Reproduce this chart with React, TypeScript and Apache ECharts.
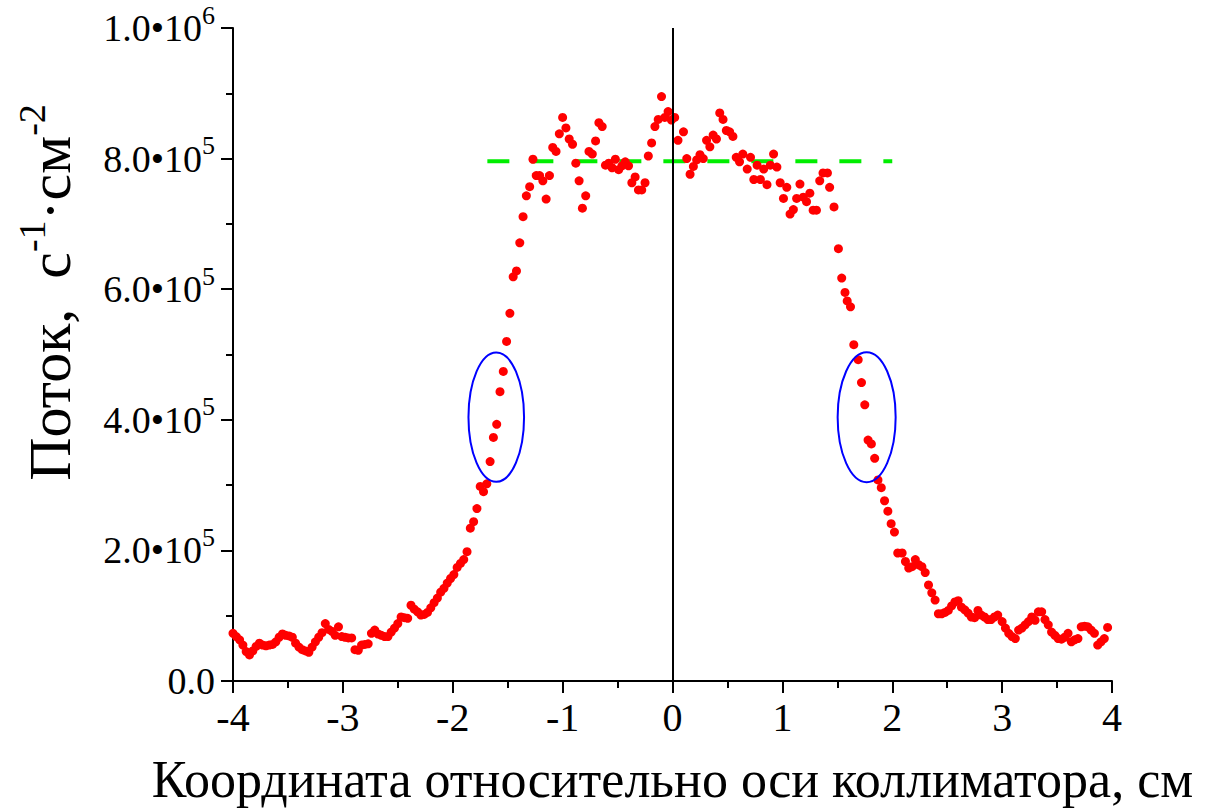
import React, { useEffect, useRef } from "react";
import * as echarts from "echarts";

// Flux profile across the collimator axis: position (cm) and flux in units of 1e5 s^-1·cm^-2
const leftPositions = [
  -4.0, -3.97, -3.94, -3.91, -3.88, -3.85, -3.82, -3.79, -3.76, -3.73,
  -3.7, -3.67, -3.64, -3.61, -3.58, -3.55, -3.52, -3.49, -3.46, -3.43,
  -3.4, -3.37, -3.34, -3.31, -3.28, -3.25, -3.22, -3.19, -3.16, -3.13,
  -3.1, -3.07, -3.04, -3.01, -2.98, -2.95, -2.92, -2.89, -2.86, -2.83,
  -2.8, -2.77, -2.74, -2.71, -2.68, -2.65, -2.62, -2.59, -2.56, -2.53,
  -2.5, -2.47, -2.44, -2.41, -2.38, -2.35, -2.32, -2.29, -2.26, -2.23,
  -2.2, -2.17, -2.14, -2.11, -2.08, -2.05, -2.02, -1.99, -1.96, -1.93,
  -1.9, -1.87, -1.84, -1.81, -1.78, -1.75, -1.72, -1.69, -1.66, -1.63,
  -1.6, -1.57, -1.54, -1.51, -1.48, -1.45, -1.42, -1.39, -1.36, -1.33,
  -1.3, -1.27, -1.24, -1.21, -1.18, -1.15, -1.12, -1.09, -1.06, -1.03,
  -1.0, -0.97, -0.94, -0.91, -0.88, -0.85, -0.82, -0.79, -0.76, -0.73,
  -0.7, -0.67, -0.64, -0.61, -0.58, -0.55, -0.52, -0.49, -0.46, -0.43,
  -0.4, -0.37, -0.34, -0.31, -0.28, -0.25, -0.22, -0.19, -0.16, -0.13,
  -0.1, -0.07, -0.04, -0.01, 0.02, 0.05,
];
const leftFlux = [
  0.73, 0.68, 0.63, 0.55, 0.45, 0.4, 0.46, 0.53, 0.58, 0.55,
  0.54, 0.55, 0.56, 0.6, 0.67, 0.72, 0.7, 0.69, 0.67, 0.58,
  0.52, 0.48, 0.46, 0.44, 0.52, 0.6, 0.67, 0.74, 0.88, 0.79,
  0.76, 0.7, 0.83, 0.68, 0.67, 0.66, 0.66, 0.48, 0.47, 0.55,
  0.56, 0.57, 0.73, 0.78, 0.72, 0.7, 0.68, 0.68, 0.75, 0.81,
  0.88, 0.98, 0.97, 0.96, 1.16, 1.1, 1.06, 1.01, 1.02, 1.05,
  1.12, 1.2, 1.27, 1.36, 1.42, 1.5, 1.57, 1.63, 1.74, 1.8,
  1.86, 1.98, 2.34, 2.44, 2.64, 2.98, 2.9, 3.02, 3.36, 3.73,
  3.93, 4.43, 4.74, 5.2, 5.63, 6.19, 6.28, 6.71, 7.11, 7.43,
  7.57, 7.99, 7.74, 7.74, 7.66, 7.38, 7.74, 8.17, 8.11, 8.38,
  8.63, 8.47, 8.3, 8.22, 7.93, 7.66, 7.24, 7.43, 8.11, 8.07,
  8.27, 8.55, 8.49, 7.9, 7.93, 7.86, 7.99, 7.83, 7.89, 7.95,
  7.89, 7.63, 7.72, 7.52, 7.52, 7.63, 8.04, 8.24, 8.49, 8.6,
  8.95, 8.63, 8.72, 8.59, 8.63, 8.28,
];
const rightPositions = [
  0.1, 0.13, 0.16, 0.19, 0.22, 0.25, 0.28, 0.31, 0.34, 0.37,
  0.4, 0.43, 0.46, 0.49, 0.52, 0.55, 0.58, 0.61, 0.64, 0.68,
  0.71, 0.74, 0.77, 0.8, 0.83, 0.86, 0.89, 0.92, 0.95, 0.98,
  1.01, 1.04, 1.07, 1.1, 1.13, 1.16, 1.19, 1.22, 1.25, 1.28,
  1.31, 1.34, 1.37, 1.41, 1.43, 1.47, 1.51, 1.54, 1.57, 1.59,
  1.62, 1.65, 1.69, 1.72, 1.75, 1.78, 1.81, 1.84, 1.87, 1.9,
  1.93, 1.96, 1.99, 2.02, 2.05, 2.09, 2.12, 2.15, 2.18, 2.21,
  2.24, 2.27, 2.3, 2.33, 2.36, 2.39, 2.42, 2.45, 2.48, 2.51,
  2.54, 2.57, 2.6, 2.63, 2.66, 2.69, 2.72, 2.75, 2.78, 2.81,
  2.84, 2.87, 2.9, 2.93, 2.96, 3.0, 3.03, 3.06, 3.09, 3.12,
  3.15, 3.18, 3.21, 3.24, 3.27, 3.3, 3.33, 3.36, 3.39, 3.42,
  3.45, 3.48, 3.51, 3.54, 3.57, 3.6, 3.63, 3.66, 3.69, 3.72,
  3.75, 3.78, 3.81, 3.84, 3.87, 3.9, 3.93, 3.96,
];
const rightFlux = [
  8.41, 8.0, 7.76, 7.88, 7.98, 8.06, 8.0, 8.28, 8.18, 8.36,
  8.3, 8.7, 8.6, 8.43, 8.41, 8.34, 8.02, 7.95, 8.07, 7.84,
  8.02, 7.68, 7.9, 7.68, 7.84, 7.6, 7.9, 8.07, 7.87, 7.63,
  7.39, 7.56, 7.15, 7.22, 7.39, 7.61, 7.41, 7.34, 7.47, 7.21,
  7.21, 7.66, 7.78, 7.78, 7.56, 7.26, 6.62, 6.17, 5.95, 5.82,
  5.73, 5.15, 4.92, 4.57, 4.23, 3.69, 3.63, 3.41, 3.08, 2.96,
  2.76, 2.6, 2.41, 2.28, 1.96, 1.96, 1.83, 1.73, 1.75, 1.86,
  1.78, 1.75, 1.66, 1.47, 1.35, 1.24, 1.03, 1.03, 1.05, 1.08,
  1.15, 1.21, 1.23, 1.13, 1.09, 1.04, 0.98, 0.97, 1.08, 1.01,
  0.98, 0.94, 0.94, 0.98, 1.01, 0.91, 0.81, 0.73, 0.68, 0.65,
  0.78, 0.81, 0.86, 0.91, 0.98, 0.93, 1.06, 1.06, 0.94, 0.86,
  0.75, 0.7, 0.65, 0.64, 0.67, 0.73, 0.6, 0.63, 0.65, 0.83,
  0.84, 0.83, 0.78, 0.73, 0.55, 0.6, 0.65, 0.82,
];
const FLUX_UNIT = 1e5;

// Plateau level (dashed green line) and its extent in cm
const plateauLevel = 796000;
const plateauRange = [-1.685, 2.0];

// Half-maximum regions: [centre x (cm), centre flux, half-width (cm), half-height (flux)]
const halfMaxRegions = [
  [-1.604, 404000, 0.253, 99000],
  [1.767, 404000, 0.264, 99500],
];

const X_TICKS = { min: -4, max: 4, interval: 1 };
const Y_TICKS = { min: 0, max: 1e6, interval: 2e5 };

const FONT = "Liberation Serif, serif";

function formatFlux(v: number): string {
  if (v === 0) return "{a|0.0}";
  const exp = Math.floor(Math.log10(v) + 1e-9);
  const mant = (v / Math.pow(10, exp)).toFixed(1);
  return `{a|${mant}•10}{s|${exp}}`;
}

export default function App() {
  const ref = useRef<HTMLDivElement>(null);

  useEffect(() => {
    if (!ref.current) return;
    const chart = echarts.init(ref.current, null, { renderer: "svg" });

    const points: number[][] = [];
    leftPositions.forEach((x, i) => points.push([x, leftFlux[i] * FLUX_UNIT]));
    rightPositions.forEach((x, i) => points.push([x, rightFlux[i] * FLUX_UNIT]));

    const axisLineStyle = { color: "#000", width: 2 };

    chart.setOption({
      animation: false,
      backgroundColor: "#fff",
      textStyle: { fontFamily: FONT },
      grid: {
        left: 233,
        right: 99,
        top: 28,
        bottom: 128,
        containLabel: false,
        outerBoundsMode: "none",
      },
      xAxis: {
        type: "value",
        min: X_TICKS.min,
        max: X_TICKS.max,
        interval: X_TICKS.interval,
        axisLine: { onZero: false, lineStyle: axisLineStyle },
        axisTick: { length: 12, lineStyle: axisLineStyle },
        minorTick: { show: true, splitNumber: 2, length: 7, lineStyle: axisLineStyle },
        splitLine: { show: false },
        axisLabel: { margin: 16, fontSize: 40, fontFamily: FONT, color: "#000" },
        name: "Координата относительно оси коллиматора, см",
        nameLocation: "middle",
        nameGap: 72,
        nameTextStyle: { fontSize: 52, fontFamily: FONT, color: "#000" },
      },
      yAxis: {
        type: "value",
        min: Y_TICKS.min,
        max: Y_TICKS.max,
        interval: Y_TICKS.interval,
        axisLine: { onZero: false, lineStyle: axisLineStyle },
        axisTick: { length: 12, lineStyle: axisLineStyle },
        minorTick: { show: true, splitNumber: 2, length: 7, lineStyle: axisLineStyle },
        splitLine: { show: false },
        axisLabel: {
          margin: 18,
          fontFamily: FONT,
          formatter: formatFlux,
          rich: {
            a: { fontSize: 38, fontFamily: FONT, color: "#000", lineHeight: 52 },
            s: { fontSize: 26, fontFamily: FONT, color: "#000", verticalAlign: "top", lineHeight: 26 },
          },
        },
        name: "{a|Поток,  с}{s|-1}{a|·см}{s|-2}",
        nameLocation: "middle",
        nameRotate: 90,
        nameGap: 146,
        nameTextStyle: {
          fontFamily: FONT,
          color: "#000",
          padding: [0, 0, 0, 124],
          rich: {
            a: { fontSize: 60, fontFamily: FONT, color: "#000", lineHeight: 74 },
            s: { fontSize: 38, fontFamily: FONT, color: "#000", verticalAlign: "top", lineHeight: 38 },
          },
        },
      },
      series: [
        {
          type: "line",
          data: plateauRange.map((x) => [x, plateauLevel]),
          symbol: "none",
          lineStyle: { color: "#00ee00", width: 4, type: [22, 22] },
          z: 2,
          silent: true,
        },
        {
          type: "scatter",
          data: points,
          symbol: "circle",
          symbolSize: 9,
          itemStyle: { color: "#ff0000", opacity: 1 },
          z: 3,
          silent: true,
          markLine: {
            silent: true,
            symbol: ["none", "none"],
            label: { show: false },
            lineStyle: { color: "#000", width: 2, type: "solid" },
            data: [{ xAxis: 0 }],
            z: 5,
          },
        },
        {
          type: "custom",
          data: halfMaxRegions,
          encode: { x: 0, y: 1 },
          z: 4,
          silent: true,
          renderItem: (_params: any, api: any) => {
            const c = api.coord([api.value(0), api.value(1)]);
            const s = api.size([api.value(2), api.value(3)]);
            return {
              type: "ellipse",
              shape: { cx: c[0], cy: c[1], rx: s[0], ry: s[1] },
              style: { fill: "none", stroke: "#0000ff", lineWidth: 2 },
            };
          },
        },
      ],
    });

    return () => chart.dispose();
  }, []);

  return (
    <div
      ref={ref}
      style={{ position: "fixed", left: 0, top: 0, width: 1211, height: 809, background: "#fff" }}
    />
  );
}
